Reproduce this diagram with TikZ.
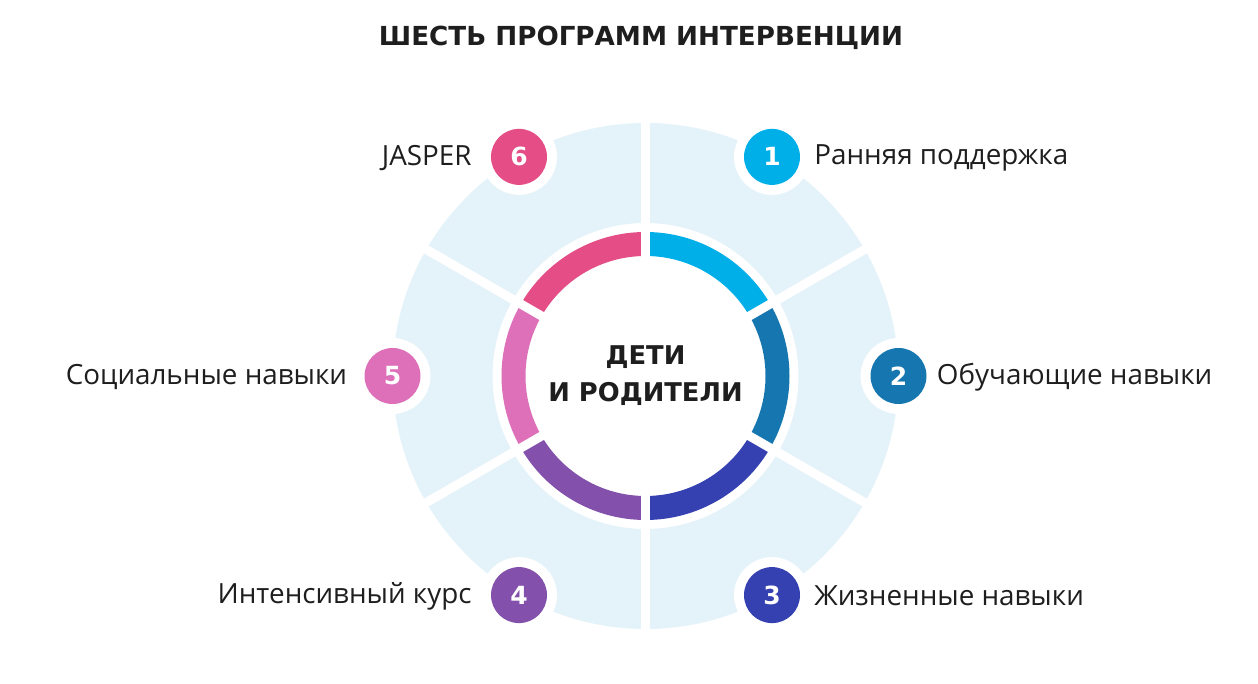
\documentclass[tikz,border=0pt]{standalone}
\usepackage{fontspec}
\setmainfont{Open Sans}
\newfontfamily\headfont{DejaVu Sans}
\definecolor{lightbg}{HTML}{E4F2F9}
\definecolor{cA}{HTML}{00AEE8}
\definecolor{cB}{HTML}{1677B0}
\definecolor{cC}{HTML}{3541B1}
\definecolor{cD}{HTML}{8351AC}
\definecolor{cE}{HTML}{DE6FB9}
\definecolor{cF}{HTML}{E54D87}
\definecolor{txt}{HTML}{1E1E1E}
\tikzset{
  numc/.style={circle, minimum size=56pt, inner sep=0pt, text=white,
    font=\headfont\bfseries\fontsize{25}{25}\selectfont,
    preaction={draw=white, line width=20pt}},
  lbl/.style={inner sep=0pt, text=txt, font=\fontsize{27.8}{30}\selectfont}
}
\begin{document}
\begin{tikzpicture}[x=1pt,y=1pt]
\useasboundingbox (0,0) rectangle (1258,684);
\fill[white] (0,0) rectangle (1258,684);
\coordinate (O) at (645.5,308);
% light annulus
\fill[lightbg, even odd rule] (O) circle (253) (O) circle (153);
% coloured ring segments
\foreach \s/\c in {30/cA,-30/cB,-90/cC,-150/cD,150/cE,90/cF}{
  \fill[\c] ([shift={(\s:144)}]O) arc[start angle=\s, end angle=\s+60, radius=144]
     -- ([shift={(\s+60:120)}]O) arc[start angle=\s+60, end angle=\s, radius=120] -- cycle;
}
% white gaps
\foreach \a in {30,90,150,210,270,330}{
  \draw[white, line width=9pt] (O) -- ++(\a:258);
}
% title
\node[inner sep=0pt, text=txt, font=\headfont\bfseries\fontsize{26.2}{30}\selectfont] (title) at (641,646) {ШЕСТЬ ПРОГРАММ ИНТЕРВЕНЦИИ};
% centre
\node[inner sep=0pt, align=center, text=txt, font=\headfont\bfseries\fontsize{25.8}{37}\selectfont] (centre) at (645.5,308) {ДЕТИ\\И РОДИТЕЛИ};
% number circles
\node[numc, fill=cA] (n1) at ([shift={(60:253)}]O) {1};
\node[numc, fill=cB] (n2) at ([shift={(0:253)}]O) {2};
\node[numc, fill=cC] (n3) at ([shift={(-60:253)}]O) {3};
\node[numc, fill=cD] (n4) at ([shift={(-120:253)}]O) {4};
\node[numc, fill=cE] (n5) at ([shift={(180:253)}]O) {5};
\node[numc, fill=cF] (n6) at ([shift={(120:253)}]O) {6};
% labels
\node[lbl, anchor=west] (l1) at ([xshift=14pt,yshift=-1pt]n1.east) {Ранняя поддержка};
\node[lbl, anchor=west] (l2) at ([xshift=10pt,yshift=-1pt]n2.east) {Обучающие навыки};
\node[lbl, anchor=west] (l3) at ([xshift=14pt,yshift=-1pt]n3.east) {Жизненные навыки};
\node[lbl, anchor=east] (l4) at ([xshift=-19pt,yshift=-1pt]n4.west) {Интенсивный курс};
\node[lbl, anchor=east] (l5) at ([xshift=-17pt,yshift=-1pt]n5.west) {Социальные навыки};
\node[lbl, anchor=east] (l6) at ([xshift=-19pt,yshift=-1pt]n6.west) {JASPER};
\end{tikzpicture}
\end{document}
